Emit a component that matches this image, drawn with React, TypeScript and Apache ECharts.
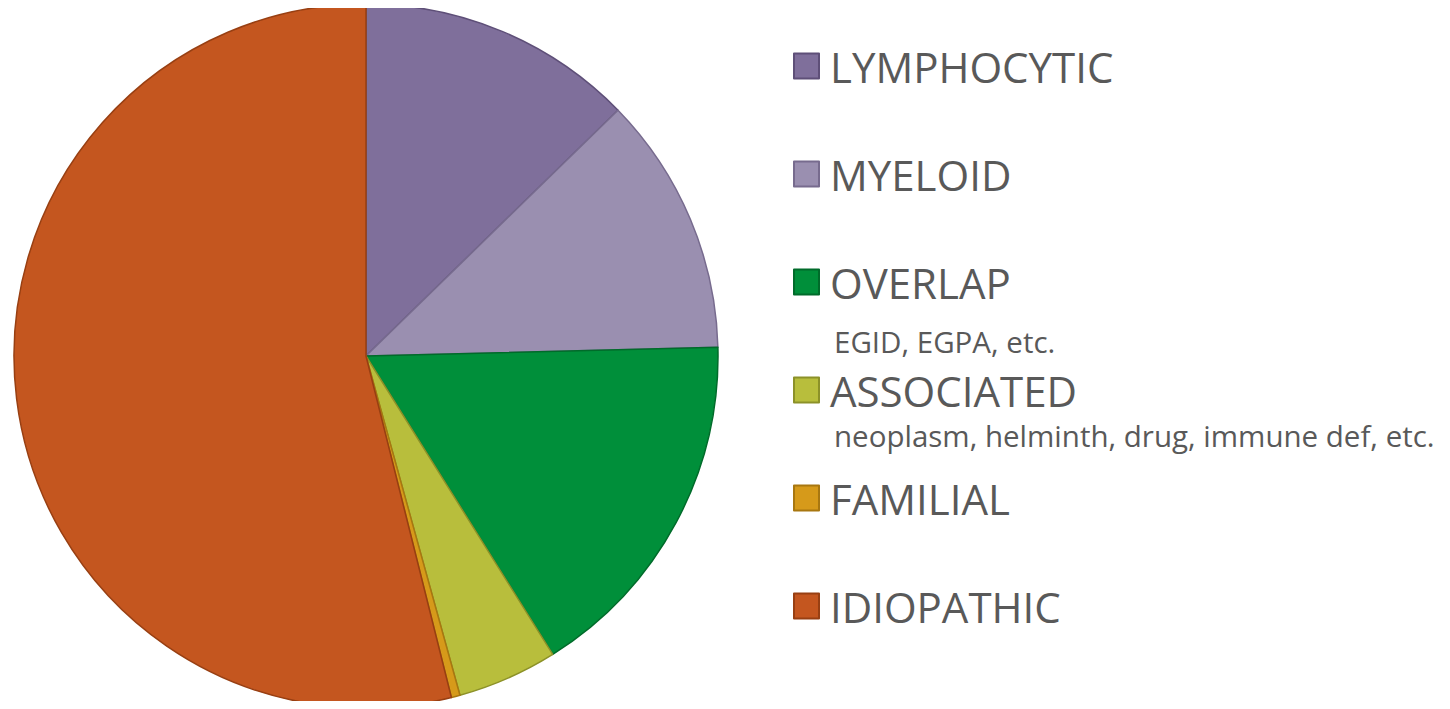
import React, { useEffect, useRef } from "react";
import * as echarts from "echarts";

const categories = ["LYMPHOCYTIC", "MYELOID", "OVERLAP", "ASSOCIATED", "FAMILIAL", "IDIOPATHIC"];
const values = [12.7, 11.9, 16.5, 4.6, 0.4, 53.9];
const fillColors = ["#7F6F9B", "#9A8FB0", "#008F3A", "#B8BE3C", "#D69A1A", "#C4561F"];
const borderColors = ["#5E4F78", "#776B8E", "#006B2A", "#8C9128", "#A87710", "#983F12"];
const subLabels = ["EGID, EGPA, etc.", "neoplasm, helminth, drug, immune def, etc."];

export default function App() {
  const ref = useRef<HTMLDivElement>(null);
  useEffect(() => {
    if (!ref.current) return;
    const chart = echarts.init(ref.current, undefined, { renderer: "svg" });
    const font = "'Open Sans', 'Noto Sans', sans-serif";
    chart.setOption({
      animation: false,
      backgroundColor: "#ffffff",
      legend: {
        orient: "vertical",
        left: 780,
        top: 32,
        height: 680,
        itemWidth: 25,
        itemHeight: 25,
        itemGap: 66,
        icon: "rect",
        data: categories,
        textStyle: {
          fontSize: 42,
          color: "#595959",
          fontFamily: font,
          padding: [0, 0, 0, 6],
        },
        selectedMode: false,
      },
      graphic: [
        {
          type: "text",
          x: 826,
          y: 333,
          style: { text: subLabels[0], fontSize: 29.5, fill: "#595959", fontFamily: font, textVerticalAlign: "middle" },
        },
        {
          type: "text",
          x: 826,
          y: 427,
          style: { text: subLabels[1], fontSize: 29.5, fill: "#595959", fontFamily: font, textVerticalAlign: "middle" },
        },
      ],
      series: [
        {
          type: "pie",
          center: [358, 348],
          radius: 352,
          startAngle: 90,
          clockwise: true,
          label: { show: false },
          labelLine: { show: false },
          emphasis: { disabled: true },
          data: categories.map((c, i) => ({
            name: c,
            value: values[i],
            itemStyle: { color: fillColors[i], borderColor: borderColors[i], borderWidth: 1.5 },
          })),
        },
      ],
    });
    return () => chart.dispose();
  }, []);
  return <div ref={ref} style={{ width: 1434, height: 693 }} />;
}
